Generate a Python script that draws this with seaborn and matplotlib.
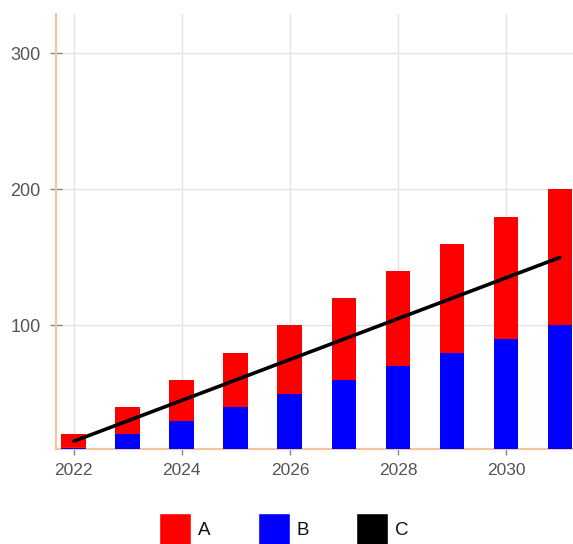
import matplotlib
matplotlib.use("Agg")
import matplotlib.pyplot as plt
from matplotlib.patches import Patch
import numpy as np
import pandas as pd
import seaborn as sns

# Data
years = [2022, 2023, 2024, 2025, 2026, 2027, 2028, 2029, 2030, 2031]
series_a = [10, 20, 30, 40, 50, 60, 70, 80, 90, 100]
series_b = [10, 20, 30, 40, 50, 60, 70, 80, 90, 100]
series_c = [15, 30, 45, 60, 75, 90, 105, 120, 135, 150]
legend_labels = ["A", "B", "C"]
x_ticks = [2022, 2024, 2026, 2028, 2030]
y_ticks = [100, 200, 300]

df = pd.DataFrame({"year": years, "A": series_a, "B": series_b, "C": series_c})
df["total"] = df["A"] + df["B"]

sns.set_theme(style="white")
plt.rcParams["font.family"] = ["Liberation Sans", "DejaVu Sans"]

W, H = 573, 544
fig = plt.figure(figsize=(W / 100, H / 100), dpi=100)
left, right, top, bottom = 56, 573, 14, 449
ax = fig.add_axes([left / W, 1 - bottom / H, (right - left) / W, (bottom - top) / H])

red, blue = "#ff0000", "#0000ff"
bar_w = 0.46

# Stacked bars: the full stack in red, then B drawn over its lower part
sns.barplot(data=df, x="year", y="total", native_scale=True, color=red,
            saturation=1, width=bar_w, ax=ax, linewidth=0, zorder=2)
sns.barplot(data=df, x="year", y="B", native_scale=True, color=blue,
            saturation=1, width=bar_w, ax=ax, linewidth=0, zorder=3)
sns.lineplot(data=df, x="year", y="C", color="black", linewidth=2.6, ax=ax, zorder=4)

ax.set_xlim(2021.67, 2031.24)
ax.set_ylim(9.3, 328.7)
ax.set_xticks(x_ticks)
ax.set_xticklabels([str(t) for t in x_ticks])
ax.set_yticks(y_ticks)
ax.set_xlabel("")
ax.set_ylabel("")

ax.grid(True, color="#e2e2e2", linewidth=1.0, zorder=0)
ax.set_axisbelow(True)

spine_col = "#f3c6a0"
for s in ["top", "right"]:
    ax.spines[s].set_visible(False)
for s in ["left", "bottom"]:
    ax.spines[s].set_color(spine_col)
    ax.spines[s].set_linewidth(1.6)

ax.tick_params(axis="y", direction="inout", length=9, width=1, color="#888888",
               labelsize=13, labelcolor="#555555", pad=6.5, left=True)
ax.tick_params(axis="x", direction="out", length=4, width=1, color="#888888",
               labelsize=12.5, labelcolor="#555555", pad=6, bottom=True)

handles = [Patch(facecolor=red), Patch(facecolor=blue), Patch(facecolor="black")]
fig.legend(handles, legend_labels, loc="upper left",
           bbox_to_anchor=(159 / W, 1 - 513 / H), ncol=3, frameon=False,
           fontsize=13.5, labelcolor="#111111",
           handlelength=1.72, handleheight=2.3, handletextpad=0.35,
           columnspacing=2.52, borderpad=0, borderaxespad=0)

fig.savefig("out.png", dpi=100)
